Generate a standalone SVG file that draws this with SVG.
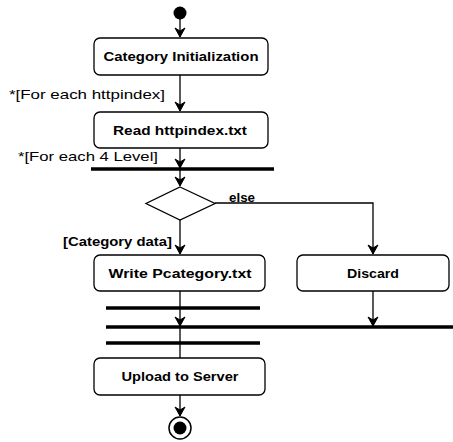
<svg xmlns="http://www.w3.org/2000/svg" width="453" height="442" viewBox="0 0 453 442">
<style>
.box{fill:#fff;stroke:#000;stroke-width:1.3}
.t{font-family:"Liberation Sans",Arial,sans-serif;font-weight:bold;font-size:13px;text-anchor:middle;fill:#000}
.lbl{font-family:"Liberation Sans",Arial,sans-serif;font-size:13px;fill:#000}
.lb{font-family:"Liberation Sans",Arial,sans-serif;font-weight:bold;font-size:13px;fill:#000}
.c{fill:none;stroke:#000;stroke-width:1.3}
.bar{stroke:#000;stroke-width:3.5}
</style>
<defs>
<marker id="ah" markerWidth="12" markerHeight="12" refX="10" refY="6" orient="auto" markerUnits="userSpaceOnUse">
<path d="M1,1 L10,6 L1,11 L4,6 Z" fill="#000" stroke="#000" stroke-width="1"/>
</marker>
</defs>
<rect width="453" height="442" fill="#fff"/>
<g id="connectors">
<line class="c" x1="180" y1="19" x2="180" y2="37" marker-end="url(#ah)"/>
<line class="c" x1="180" y1="75" x2="180" y2="111" marker-end="url(#ah)"/>
<line class="c" x1="180" y1="148" x2="180" y2="168" marker-end="url(#ah)"/>
<line class="c" x1="180" y1="170" x2="180" y2="186" marker-end="url(#ah)"/>
<line class="c" x1="180" y1="220" x2="180" y2="254" marker-end="url(#ah)"/>
<polyline class="c" points="215,203 373,203 373,254" marker-end="url(#ah)"/>
<line class="c" x1="180" y1="291" x2="180" y2="326" marker-end="url(#ah)"/>
<line class="c" x1="373" y1="291" x2="373" y2="326" marker-end="url(#ah)"/>
<line class="c" x1="180" y1="327" x2="180" y2="358"/>
<line class="c" x1="180" y1="395" x2="180" y2="416" marker-end="url(#ah)"/>
</g>
<g id="start"><circle cx="180" cy="13" r="6.5" fill="#000"/></g>
<g id="n1"><rect class="box" x="94" y="38" width="174" height="37" rx="6"/><text class="t" x="181" y="61" textLength="155" lengthAdjust="spacingAndGlyphs">Category Initialization</text></g>
<g id="lbl1"><text class="lbl" x="9" y="99" textLength="156" lengthAdjust="spacingAndGlyphs">*[For each httpindex]</text></g>
<g id="n2"><rect class="box" x="94" y="112" width="174" height="36" rx="6"/><text class="t" x="180" y="135" textLength="134" lengthAdjust="spacingAndGlyphs">Read httpindex.txt</text></g>
<g id="lbl2"><text class="lbl" x="18" y="161" textLength="140" lengthAdjust="spacingAndGlyphs">*[For each 4 Level]</text></g>
<g id="fork1"><line class="bar" x1="91" y1="169" x2="274" y2="169"/></g>
<g id="decision"><polygon class="box" points="180,187 215,203.5 180,220 146,203.5"/></g>
<g id="lbl-else"><text class="lb" x="229" y="202" textLength="26" lengthAdjust="spacingAndGlyphs">else</text></g>
<g id="lbl-data"><text class="lb" x="63" y="246" textLength="109" lengthAdjust="spacingAndGlyphs">[Category data]</text></g>
<g id="n3"><rect class="box" x="94" y="255" width="171" height="36" rx="6"/><text class="t" x="180" y="278" textLength="143" lengthAdjust="spacingAndGlyphs">Write Pcategory.txt</text></g>
<g id="n4"><rect class="box" x="297" y="255" width="152" height="36" rx="6"/><text class="t" x="373" y="278" textLength="52" lengthAdjust="spacingAndGlyphs">Discard</text></g>
<g id="bars">
<line class="bar" x1="106" y1="308" x2="260" y2="308"/>
<line class="bar" x1="106" y1="327" x2="453" y2="327"/>
<line class="bar" x1="106" y1="343" x2="260" y2="343"/>
</g>
<g id="n5"><rect class="box" x="94" y="358" width="171" height="37" rx="6"/><text class="t" x="180" y="381" textLength="117" lengthAdjust="spacingAndGlyphs">Upload to Server</text></g>
<g id="end"><circle cx="180" cy="428" r="11" fill="#fff" stroke="#000" stroke-width="1.5"/><circle cx="180" cy="428" r="6.5" fill="#000"/></g>
</svg>
